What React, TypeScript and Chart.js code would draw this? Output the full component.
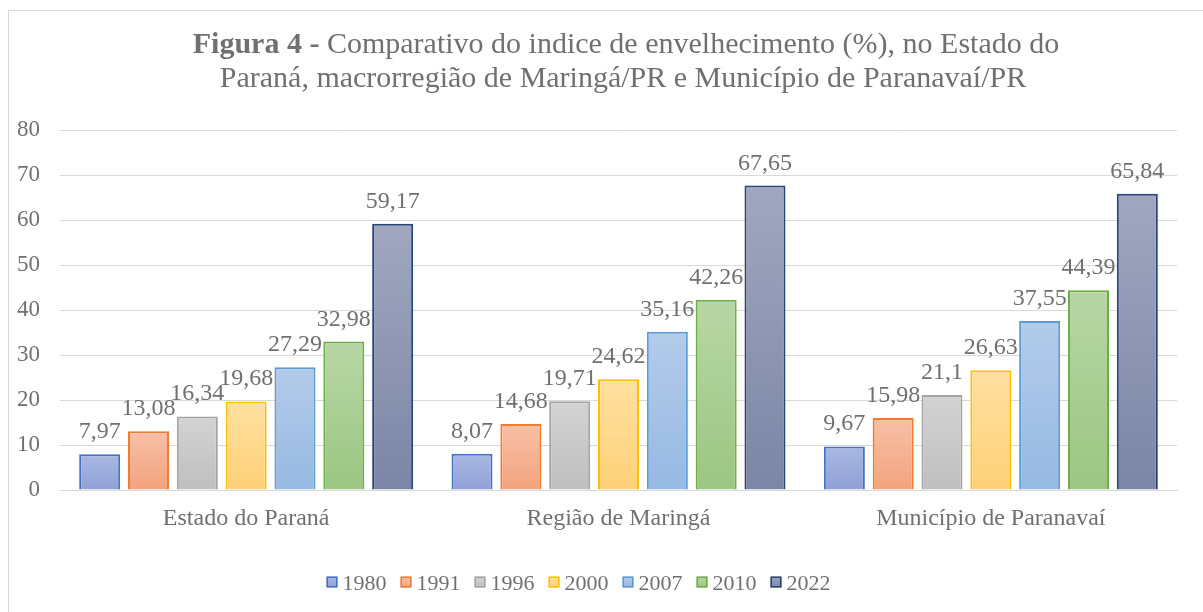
import React, { useEffect, useRef } from 'react';
import { Chart, registerables } from 'chart.js';

Chart.register(...registerables);

const categories = ['Estado do Paraná', 'Região de Maringá', 'Município de Paranavaí'];
const years = ['1980', '1991', '1996', '2000', '2007', '2010', '2022'];
const v1980 = [7.97, 8.07, 9.67];
const v1991 = [13.08, 14.68, 15.98];
const v1996 = [16.34, 19.71, 21.1];
const v2000 = [19.68, 24.62, 26.63];
const v2007 = [27.29, 35.16, 37.55];
const v2010 = [32.98, 42.26, 44.39];
const v2022 = [59.17, 67.65, 65.84];
const seriesValues = [v1980, v1991, v1996, v2000, v2007, v2010, v2022];

const borderColors = ['#4472C4', '#ED7D31', '#A5A5A5', '#FFC000', '#5B9BD5', '#70AD47', '#264478'];
const lightColors = ['#aab8e2', '#f7c0a8', '#d3d3d3', '#ffe0a0', '#b4cbea', '#b8d6a5', '#a1a7bf'];
const darkColors = ['#8fa0d6', '#f3a37d', '#bfbfbf', '#fed178', '#96b9e2', '#9bc682', '#7b85a5'];

const titleBold = 'Figura 4 -';
const titleRest1 = ' Comparativo do indice de envelhecimento (%), no Estado do';
const titleLine2 = 'Paraná, macrorregião de Maringá/PR e Município de Paranavaí/PR';

const FONT = "'Liberation Serif', 'Times New Roman', serif";
const TEXT = '#707070';
const GRID = '#d9d9d9';

const fmt = (v: number) => String(v).replace('.', ',');

export default function App() {
  const ref = useRef<HTMLCanvasElement>(null);

  useEffect(() => {
    document.body.style.margin = '0';
    const canvas = ref.current;
    if (!canvas) return;

    const decor = {
      id: 'decor',
      beforeDraw(chart: any) {
        const c = chart.ctx;
        c.save();
        c.strokeStyle = GRID;
        c.lineWidth = 1;
        c.strokeRect(8.5, 10.5, 1400, 800);
        // title
        c.fillStyle = TEXT;
        c.textBaseline = 'alphabetic';
        c.textAlign = 'left';
        c.font = `bold 30px ${FONT}`;
        const wb = c.measureText(titleBold).width;
        c.font = `30px ${FONT}`;
        const wr = c.measureText(titleRest1).width;
        let x = 626 - (wb + wr) / 2;
        c.font = `bold 30px ${FONT}`;
        c.fillText(titleBold, x, 53);
        c.font = `30px ${FONT}`;
        c.fillText(titleRest1, x + wb, 53);
        c.textAlign = 'center';
        c.fillText(titleLine2, 623, 87);
        c.restore();
      },
      afterDatasetsDraw(chart: any) {
        const c = chart.ctx;
        c.save();
        c.fillStyle = TEXT;
        c.font = `24px ${FONT}`;
        c.textAlign = 'center';
        c.textBaseline = 'alphabetic';
        chart.data.datasets.forEach((ds: any, i: number) => {
          const meta = chart.getDatasetMeta(i);
          meta.data.forEach((el: any, j: number) => {
            c.fillText(fmt(ds.data[j]), el.x, el.y - 16);
          });
        });
        c.restore();
      },
      afterDraw(chart: any) {
        const c = chart.ctx;
        c.save();
        c.font = `22px ${FONT}`;
        const box = 11;
        const gapText = 5;
        const gapItem = 14;
        const widths = years.map((y) => box + gapText + c.measureText(y).width);
        const total = widths.reduce((a, b) => a + b, 0) + gapItem * (years.length - 1);
        let x = 578.5 - total / 2;
        const cy = 582;
        years.forEach((y, i) => {
          const g = c.createLinearGradient(0, cy - box / 2, 0, cy + box / 2);
          g.addColorStop(0, lightColors[i]);
          g.addColorStop(1, darkColors[i]);
          c.fillStyle = g;
          c.fillRect(x, cy - box / 2, box, box);
          c.strokeStyle = borderColors[i];
          c.lineWidth = 1.5;
          c.strokeRect(x + 0.75, cy - box / 2 + 0.75, box - 1.5, box - 1.5);
          c.fillStyle = TEXT;
          c.textAlign = 'left';
          c.textBaseline = 'alphabetic';
          c.fillText(y, x + box + gapText, cy + 7.5);
          x += widths[i] + gapItem;
        });
        c.restore();
      },
    };

    const datasets = years.map((y, i) => ({
      label: y,
      data: seriesValues[i],
      borderColor: borderColors[i],
      borderWidth: 2,
      borderSkipped: 'start' as const,
      backgroundColor: (ctx: any) => {
        const chart = ctx.chart;
        const ys = chart.scales && chart.scales.y;
        if (!ys || ctx.type !== 'data' || !chart.chartArea) return darkColors[i];
        const top = ys.getPixelForValue(ctx.raw);
        const bottom = ys.getPixelForValue(0);
        if (!isFinite(top) || !isFinite(bottom) || Math.abs(bottom - top) < 1) return darkColors[i];
        const g = chart.ctx.createLinearGradient(0, top, 0, bottom);
        g.addColorStop(0, lightColors[i]);
        g.addColorStop(1, darkColors[i]);
        return g;
      },
      categoryPercentage: 0.918,
      barPercentage: 0.84,
    }));

    const chart = new Chart(canvas, {
      type: 'bar',
      data: { labels: categories, datasets },
      plugins: [decor],
      options: {
        responsive: false,
        animation: false,
        layout: { padding: { top: 130, bottom: 82, left: 0, right: 26 } },
        plugins: {
          legend: { display: false },
          title: { display: false },
          tooltip: { enabled: false },
        },
        scales: {
          x: {
            z: 1,
            grid: { display: false, drawTicks: false },
            border: { display: true, color: GRID, width: 1 },
            ticks: { color: TEXT, font: { family: FONT, size: 24 }, padding: 14 },
            afterFit: (s: any) => { s.height = 40; },
          },
          y: {
            min: 0,
            max: 80,
            grid: { color: GRID, drawTicks: false },
            border: { display: false },
            ticks: { stepSize: 10, color: TEXT, font: { family: FONT, size: 23 }, padding: 20 },
            afterFit: (s: any) => { s.width = 60; },
          },
        },
      },
    });
    return () => chart.destroy();
  }, []);

  return (
    <div style={{ width: 1203, height: 612 }}>
      <canvas ref={ref} width={1203} height={612} style={{ display: 'block' }} />
    </div>
  );
}
